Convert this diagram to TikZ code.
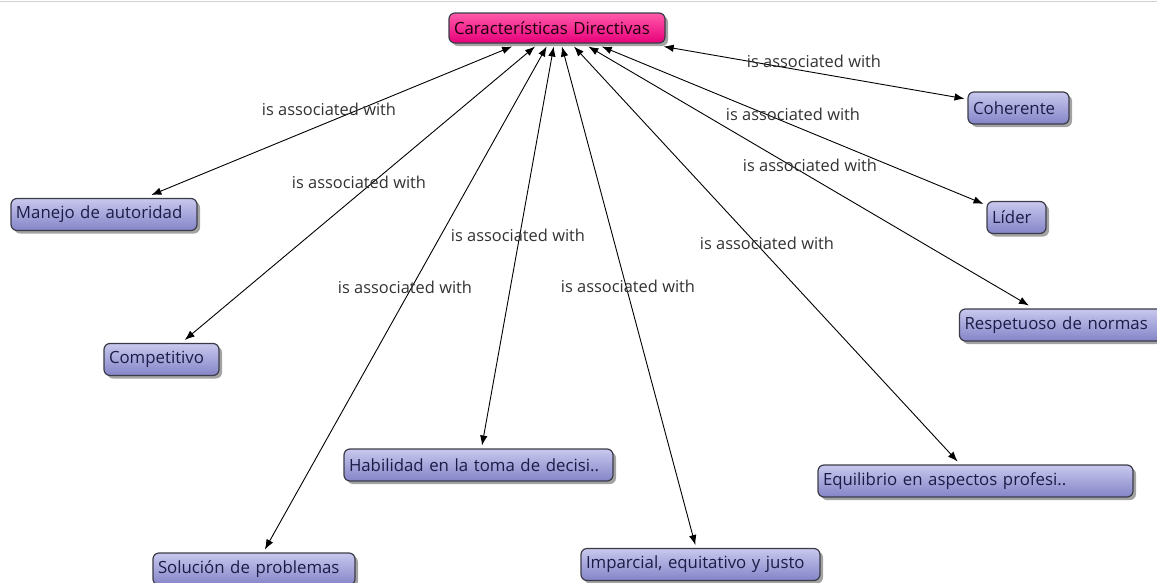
\documentclass[tikz,border=0pt]{standalone}
\usepackage{fontspec}
\setmainfont{Open Sans}
\usetikzlibrary{arrows.meta,shadows}
\definecolor{leaftop}{RGB}{200,200,238}
\definecolor{leafbot}{RGB}{132,132,200}
\definecolor{pinktop}{RGB}{255,90,170}
\definecolor{pinkbot}{RGB}{232,0,122}
\definecolor{boxline}{RGB}{60,60,72}
\definecolor{leaftext}{RGB}{28,28,70}
\definecolor{labeltext}{RGB}{50,50,50}
\tikzset{
  basebox/.style={draw=boxline, line width=1.2pt, rounded corners=6pt,
    inner xsep=5pt, inner ysep=0pt, outer sep=3.5pt, align=left,
    font=\fontsize{16.8}{18}\selectfont,
    drop shadow={shadow xshift=3pt, shadow yshift=-3pt, opacity=0.45, fill=black!80}},
  leaf/.style={basebox, top color=leaftop, bottom color=leafbot,
    text=leaftext, minimum height=32pt, text width=#1},
  topbox/.style={basebox, top color=pinktop, bottom color=pinkbot,
    text=black!85!purple, minimum height=30pt, text width=#1},
  lbl/.style={text=labeltext, font=\fontsize{16.4}{18}\selectfont, inner sep=0pt},
  link/.style={draw=black, line width=0.9pt, {Latex[length=10pt,width=7.5pt]}-{Latex[length=10pt,width=7.5pt]}}
}
\begin{document}
\begin{tikzpicture}[x=1pt,y=-1pt]
\useasboundingbox (0,0) rectangle (1157,582);
\draw[gray!35, line width=1.6pt] (0,1.5) -- (1157,1.5);

\node[topbox=206pt] (top) at (557,28) {Características Directivas};

\node[leaf=91pt]  (coh) at (1018.5,108) {Coherente};
\node[leaf=49pt]  (lid) at (1016.5,217.5) {Líder};
\node[leaf=195pt] (res) at (1062,325) {Respetuoso de normas};
\node[leaf=305pt] (equ) at (975.5,481) {Equilibrio en aspectos profesi..};
\node[leaf=229pt] (imp) at (700.5,564.5) {Imparcial, equitativo y justo};
\node[leaf=192pt] (sol) at (254,569) {Solución de problemas};
\node[leaf=259pt] (hab) at (478.5,465) {Habilidad en la toma de decisi..};
\node[leaf=105pt] (com) at (161.5,359.5) {Competitivo};
\node[leaf=176pt] (man) at (104,214.5) {Manejo de autoridad};

\foreach \n in {man,com,sol,hab,imp,equ,res,lid,coh}
  \draw[link] (\n) -- (top);

\node[lbl] (l1) at (329,109) {is associated with};
\node[lbl] (l2) at (359,182) {is associated with};
\node[lbl] (l3) at (405,287) {is associated with};
\node[lbl] (l4) at (518,235) {is associated with};
\node[lbl] (l5) at (628,286) {is associated with};
\node[lbl] (l6) at (767,243) {is associated with};
\node[lbl] (l7) at (810,165) {is associated with};
\node[lbl] (l8) at (793,114) {is associated with};
\node[lbl] (l9) at (814,61) {is associated with};
\end{tikzpicture}
\end{document}
